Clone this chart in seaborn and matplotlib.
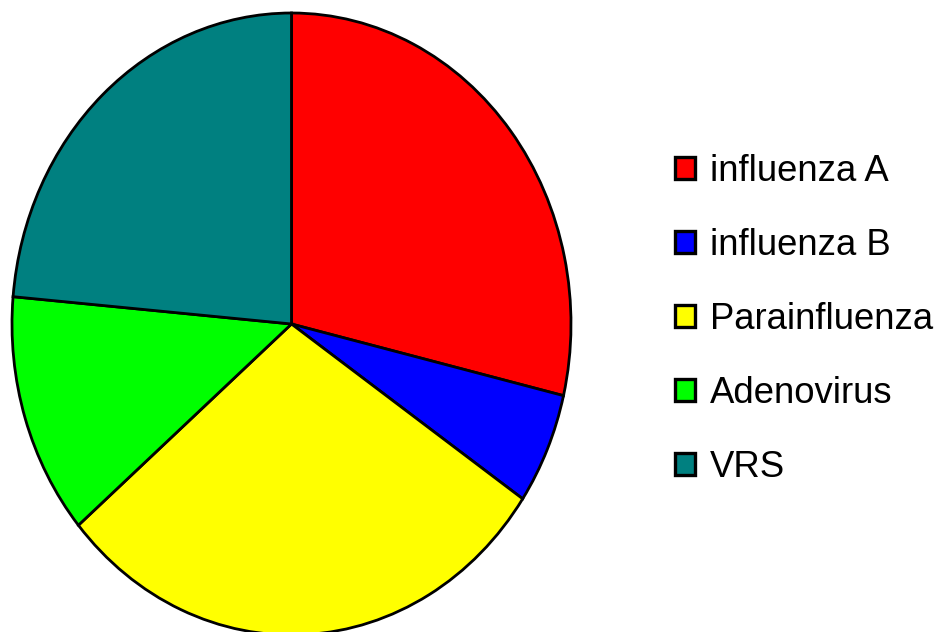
import matplotlib
matplotlib.use("Agg")
import matplotlib.pyplot as plt
import matplotlib.patches as mpatches
import seaborn as sns

# Dati (in %)
labels = ["influenza A", "influenza B", "Parainfluenza", "Adenovirus", "VRS"]
shares = [28.7, 5.8, 29.3, 12.6, 23.6]
colors = ["#FF0000", "#0000FF", "#FFFF00", "#00FF00", "#008080"]

sns.set_theme(style="white")
plt.rcParams["font.family"] = ["Liberation Sans", "DejaVu Sans"]
plt.rcParams["text.color"] = "black"

fig = plt.figure(figsize=(9.49, 6.32), dpi=100)
ax = fig.add_axes([12 / 949, -3 / 632, 559 / 949, 622 / 632])
wedges, _ = ax.pie(
    shares,
    colors=colors,
    startangle=90,
    counterclock=False,
    wedgeprops={"edgecolor": "black", "linewidth": 2.0},
)
ax.set_aspect("auto")
ax.set_xlim(-1.0, 1.0)
ax.set_ylim(-1.0, 1.0)
ax.axis("off")

handles = [
    mpatches.Patch(facecolor=c, edgecolor="black", linewidth=2.4, label=l)
    for c, l in zip(colors, labels)
]
fig.legend(
    handles=handles,
    loc="upper left",
    bbox_to_anchor=(675 / 949, 1 - 154 / 632),
    frameon=False,
    fontsize=26.3,
    labelcolor="black",
    handlelength=0.55,
    handleheight=0.55,
    handletextpad=0.4,
    labelspacing=1.07,
    borderpad=0,
    borderaxespad=0,
)

fig.savefig("out.png", dpi=100)
